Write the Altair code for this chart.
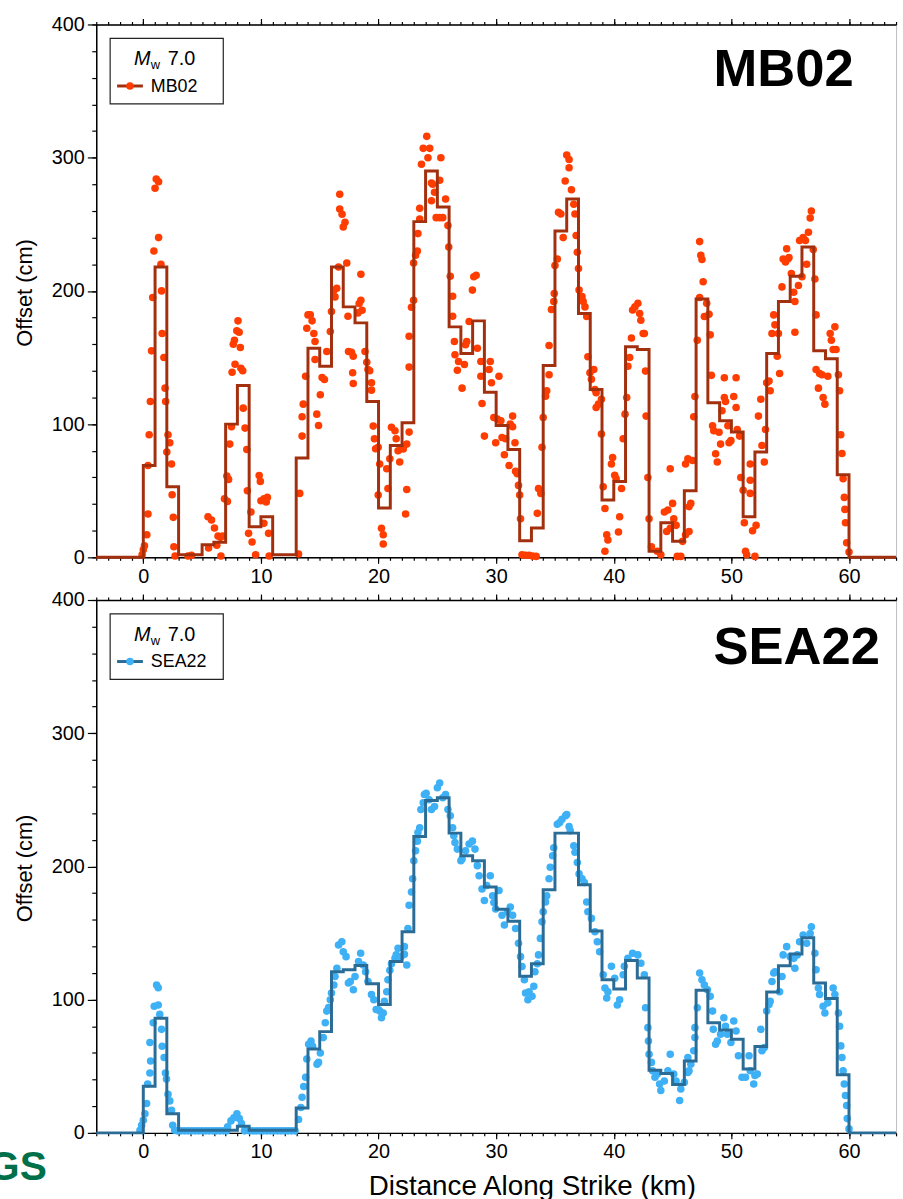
import altair as alt
import pandas as pd

FONT = "Liberation Sans"

# Left edge (km) of each 1-km slip bin along strike
BIN_KM = list(range(0, 60))

# Binned offsets (cm) for each model, one value per 1-km bin
MB02_BIN = [69, 218, 53, 2, 2, 9.4, 11.4, 100, 129, 23,
            30.5, 2, 2, 74.5, 157, 143.5, 218, 188, 176, 117,
            37, 84, 101, 252, 290, 263, 173, 153, 177.5, 124,
            99, 81, 12.4, 22, 144, 245, 269, 183, 126, 43,
            57, 158, 156, 4.5, 26, 12, 50, 194, 116, 102.5,
            94, 30.5, 79, 153, 192, 211, 233, 155, 149, 62]
SEA22_BIN = [35, 86, 14.4, 2, 2, 2, 2, 2, 5, 2,
             2, 2, 2, 18.6, 63, 76, 121, 122.4, 125.7, 112,
             96.3, 128.6, 151, 222.5, 249.5, 251.5, 225, 208, 204.3, 184.5,
             167.8, 158.9, 117.5, 126.9, 182.5, 225, 225, 186.2, 151.5, 115,
             108, 129.4, 116.2, 47, 44.5, 36.3, 54, 107, 82.7, 77.2,
             70.3, 47.9, 64.8, 105.8, 125.4, 134.3, 146.5, 112.5, 100.8, 43.7]

# Measured surface offsets (km along strike, offset in cm)
MB02_PTS = [
    (-0.1, 2), (0.0, 5.7), (0.1, 8.7), (0.3, 17), (0.4, 32.5), (0.4, 69), (0.5, 92), (0.6, 117),
    (0.7, 155), (0.8, 195), (1.0, 277), (1.1, 284), (1.3, 282), (0.9, 230), (1.3, 240), (1.5, 220),
    (1.55, 200), (1.6, 168), (1.75, 150), (1.85, 127), (1.9, 117), (2.1, 92), (2.25, 86), (2.0, 79),
    (2.4, 70), (2.45, 47), (2.55, 30), (2.6, 8), (2.7, 1), (3.8, 1), (4.1, 1.5), (5.5, 30.5),
    (5.8, 28), (6.05, 22), (6.35, 16), (6.55, 15), (6.75, 16), (5.55, 7), (6.25, 9), (6.6, 1),
    (6.9, 44), (7.15, 42), (7.1, 61), (7.25, 58.5), (7.35, 85), (7.5, 98), (7.55, 139), (7.8, 145),
    (7.65, 160), (7.75, 163), (7.95, 170), (8.15, 169), (8.05, 177.5), (8.25, 157.5), (8.3, 142),
    (8.45, 140), (8.5, 112), (8.65, 97), (8.8, 81), (8.85, 50), (9.15, 34), (8.95, 18), (9.25, 11.5),
    (9.55, 2), (9.85, 61.5), (9.95, 57), (10.0, 42.5), (10.25, 44), (10.45, 41.5), (10.55, 45),
    (10.25, 25.5), (10.65, 18), (10.7, 1), (13.2, 2.5), (13.3, 48), (13.5, 91), (13.5, 105.5),
    (13.6, 115), (13.8, 136), (13.9, 172), (14.0, 182), (14.2, 182), (14.35, 177.5), (14.5, 168),
    (14.6, 162), (14.75, 107.5), (14.9, 99), (14.6, 148.5), (15.05, 122), (15.2, 135), (15.4, 133.5),
    (15.6, 154.5), (15.9, 169.5), (16.0, 184.5), (16.2, 200.5), (16.3, 195.5), (16.45, 202),
    (16.6, 218), (16.7, 272.5), (16.7, 261.5), (16.9, 257.5), (17.0, 248), (17.15, 251.5),
    (17.3, 221), (17.4, 181), (17.45, 154.5), (17.7, 154), (17.85, 151), (17.8, 138.5),
    (17.85, 130.5), (18.25, 183.5), (18.35, 190.5), (18.5, 193), (18.6, 185.5), (18.5, 212.5),
    (18.85, 154.5), (19.0, 146.5), (19.1, 141), (19.25, 140), (19.4, 131), (19.4, 125.5),
    (19.55, 98.5), (19.65, 89), (19.75, 81.5),
    (19.97, 82.7), (20.1, 70), (19.97, 46.7), (20.25, 21.8), (20.4, 16.9), (20.4, 10), (20.8, 51.6),
    (20.7, 66.5), (20.96, 74), (21.1, 97.6), (21.4, 95), (21.5, 89), (21.66, 80), (21.8, 71.5),
    (22.0, 82), (22.1, 81.4), (22.4, 85), (22.4, 50.9), (22.3, 32.5), (22.6, 94), (22.6, 166),
    (22.6, 142.8), (22.8, 187.7), (22.98, 193), (22.98, 221), (23.15, 226.7), (23.3, 230),
    (23.35, 243), (23.5, 254), (23.5, 262), (23.65, 295), (23.8, 307), (24.1, 316), (24.35, 307),
    (24.2, 300), (24.5, 281), (24.6, 280), (24.76, 274), (24.5, 267.7), (24.9, 255), (25.2, 255),
    (25.3, 300), (25.2, 283), (25.7, 269), (25.46, 255), (25.9, 249), (25.97, 233), (26.1, 211),
    (26.3, 196), (26.3, 181), (26.45, 162), (26.5, 152), (26.7, 140.5), (26.8, 147), (27.1, 127),
    (27.3, 144.7), (27.4, 159.6), (27.5, 162), (27.7, 177), (27.98, 200.6), (28.1, 210.6),
    (28.3, 211.8), (28.4, 157), (28.7, 147), (28.7, 136), (28.8, 115.5), (29.0, 91), (29.4, 141),
    (29.5, 147), (29.6, 131), (29.8, 105), (29.96, 86), (30.1, 103.8), (30.24, 136), (30.4, 102.5),
    (30.5, 90), (30.7, 77), (30.8, 89), (31.1, 69), (31.2, 100), (31.4, 106), (31.4, 98), (31.6, 86),
    (31.65, 64.6), (31.8, 62.8), (31.9, 54), (32.0, 46.7), (32.07, 29), (32.2, 2), (32.5, 1.5),
    (32.8, 1.5), (33.1, 1), (33.4, 0.7), (33.5, 33), (33.6, 51.6), (33.8, 48), (33.9, 82.7),
    (34.0, 105), (34.2, 121), (34.3, 125), (34.5, 137), (34.5, 159), (34.7, 186), (34.9, 192),
    (34.94, 198), (35.0, 219), (35.2, 224), (35.3, 259), (35.5, 257.7), (35.7, 240), (35.87, 282.5),
    (36.0, 302), (36.2, 298.7), (36.2, 292.5), (36.4, 276), (36.6, 265), (36.7, 257.7), (36.8, 241.6),
    (36.9, 229), (37.0, 216.8), (37.05, 200.6), (37.3, 195.7), (37.4, 192), (37.55, 188),
    (37.7, 180.8), (37.8, 150.5), (37.97, 138.5), (38.1, 133.6), (38.3, 141), (38.4, 126),
    (38.5, 123.6), (38.5, 112.5), (38.7, 115), (38.95, 118.7), (38.95, 92.6), (39.1, 53),
    (39.25, 36.7), (39.4, 17), (39.25, 4.5), (39.5, 13), (39.8, 70), (39.9, 75), (40.08, 61.6),
    (40.2, 59), (40.4, 19), (40.5, 30.5), (40.66, 51.6), (40.8, 89), (40.96, 107.5), (41.1, 120),
    (41.2, 143.5), (41.35, 150), (41.5, 164.6), (41.6, 185.7), (41.8, 188), (42.05, 190.7),
    (42.2, 183), (42.3, 178), (42.5, 168), (42.6, 168), (42.7, 139.8), (42.75, 106), (42.9, 60),
    (43.0, 29), (43.2, 8), (43.7, 4.5), (44.0, 2), (44.3, 34), (44.6, 35.5), (44.8, 66.5),
    (44.8, 21.8), (44.5, 19.4),
    (45.0, 40.5), (45.1, 29), (45.3, 24), (45.4, 0.7), (45.7, 0.7), (45.85, 12), (46.1, 70),
    (46.1, 17), (46.3, 74), (46.4, 19.4), (46.4, 38), (46.55, 40.5), (46.7, 72.7), (46.8, 105.5),
    (46.9, 120.7), (47.1, 163), (47.3, 195), (47.3, 237), (47.4, 226.7), (47.5, 223.5),
    (47.6, 206.8), (47.7, 180.8), (47.9, 190.7), (48.1, 182.5), (48.2, 167), (48.3, 136.6),
    (48.4, 98.8), (48.5, 95), (48.66, 77.7), (48.8, 71.5), (48.95, 93.9), (49.08, 85), (49.2, 110),
    (49.4, 134.8), (49.4, 120), (49.5, 117), (49.7, 98.8), (49.8, 86), (49.96, 87.6), (50.2, 120.7),
    (50.4, 134.8), (50.4, 112.5), (50.5, 96), (50.7, 91), (50.8, 60), (51.0, 50.4), (51.1, 26),
    (51.2, 4.5), (51.3, 2), (51.6, 70), (51.6, 57.8), (51.6, 48), (51.8, 20), (52.0, 0.7),
    (52.1, 24), (52.3, 106), (52.5, 118.7), (52.6, 84), (52.8, 71.5), (52.9, 96), (53.0, 131),
    (53.2, 132.4), (53.3, 125), (53.45, 168), (53.6, 182), (53.7, 174.5), (53.9, 151), (54.0, 168),
    (54.1, 138), (54.3, 203), (54.4, 224), (54.6, 221.7), (54.7, 231.7), (54.8, 224), (54.9, 225),
    (55.1, 213), (55.3, 199), (55.4, 192), (55.4, 169), (55.7, 204), (55.8, 237.9), (56.0, 210.6),
    (56.1, 240), (56.3, 237.9), (56.4, 220), (56.55, 244), (56.7, 254.7), (56.8, 260), (56.96, 231),
    (57.1, 209), (57.2, 182), (57.2, 141), (57.4, 127), (57.5, 138), (57.7, 137), (57.8, 120),
    (57.95, 115), (58.2, 136), (58.4, 168), (58.5, 163), (58.65, 156), (58.8, 173), (58.9, 156),
    (59.1, 137), (59.2, 125), (59.3, 92), (59.4, 78), (59.5, 59), (59.6, 45), (59.65, 36),
    (59.7, 26), (59.8, 11), (60.0, 4),
]

SEA22_PTS = [
    (-0.28, 2), (-0.14, 5.7), (0.0, 9.4), (0.14, 14.4), (0.28, 22), (0.37, 36.7), (0.56, 45),
    (0.62, 54), (0.56, 67.8), (0.84, 82.7), (0.93, 95), (1.13, 111), (1.27, 109), (1.27, 96),
    (1.4, 89), (1.55, 77.7), (1.6, 65), (1.77, 56.6), (1.88, 45), (1.97, 40.5), (2.1, 29),
    (2.25, 24), (2.4, 17), (2.5, 5.7), (2.67, 2),
    (2.9, 1.5), (3.2, 1.5), (3.5, 1.5), (3.8, 1.5), (4.1, 1.5), (4.4, 1.5), (4.7, 1.5), (5.0, 1.5),
    (5.3, 1.5), (5.6, 1.5), (5.9, 1.5), (6.2, 1.5), (6.5, 1.5), (6.8, 1.5), (7.1, 1.5), (8.6, 1.5),
    (9.0, 1.5), (9.3, 1.5), (9.6, 1.5), (9.9, 1.5), (10.2, 1.5), (10.5, 1.5), (10.8, 1.5),
    (11.1, 1.5), (11.4, 1.5), (11.7, 1.5), (12.0, 1.5), (12.3, 1.5), (12.6, 1.5), (12.9, 1.5),
    (7.17, 4.5), (7.45, 9), (7.7, 11.4), (7.96, 14.4), (8.16, 10.7), (8.35, 7),
    (13.2, 10), (13.4, 19), (13.5, 26.8), (13.64, 34.8), (13.8, 41.7), (13.9, 55.4), (14.06, 66.5),
    (14.26, 69), (14.4, 65), (14.77, 51.6), (14.9, 52.9), (15.05, 60), (15.3, 71.5), (15.47, 82.7),
    (15.6, 91.4), (15.75, 94), (15.9, 100), (16.0, 105), (16.2, 111), (16.3, 117.4), (16.46, 123.6),
    (16.6, 141), (16.88, 143.5), (17.0, 136), (17.24, 132.3), (17.44, 112.5), (17.6, 113.7),
    (17.86, 107.5), (18.0, 117.4), (18.3, 128.6), (18.48, 134.8), (18.7, 126), (18.9, 121),
    (19.1, 113.7), (19.4, 103.8), (19.6, 100), (19.8, 92.6),
    (19.97, 92.6), (20.1, 91.4), (20.25, 86.4), (20.4, 90), (20.5, 98.8), (20.7, 106), (20.8, 115),
    (20.96, 122), (21.1, 127), (21.4, 131), (21.5, 133.6), (21.66, 138.5), (21.9, 132.3),
    (22.2, 139.8), (22.4, 126), (22.2, 134), (22.5, 153.4), (22.6, 170.8), (22.8, 180.8),
    (22.9, 190.7), (23.0, 204.3), (23.15, 211.8), (23.3, 219), (23.35, 225.4), (23.5, 229),
    (23.6, 242.8), (23.8, 247.8), (23.9, 254), (24.05, 255), (24.3, 250), (24.5, 242.8),
    (24.76, 245), (25.0, 259), (25.2, 262.7), (25.46, 251.5), (25.7, 254), (25.9, 242.8),
    (26.1, 238), (26.3, 229), (26.4, 223), (26.5, 218), (26.7, 213), (27.0, 204.3), (27.1, 205.6),
    (27.4, 211.8), (27.7, 216.8), (27.98, 219), (28.2, 213), (28.4, 200.6), (28.55, 193),
    (28.8, 183), (29.0, 174.5), (29.2, 185.7), (29.5, 193), (29.7, 178), (29.8, 173), (29.96, 168),
    (30.24, 182), (30.5, 163.4), (30.7, 156), (30.96, 165.9), (31.2, 169.6), (31.4, 163.4),
    (31.65, 153.4), (31.9, 142.3), (32.07, 132.3), (32.2, 124.9), (32.4, 115), (32.5, 105),
    (32.7, 100), (32.8, 106), (33.05, 102.5), (33.2, 110), (33.3, 121), (33.5, 127), (33.6, 133.6),
    (33.76, 146), (33.9, 158.4), (34.0, 165.9), (34.2, 173.3), (34.3, 178), (34.5, 190.7),
    (34.6, 199.4), (34.8, 208), (34.9, 214), (35.2, 231.7), (35.4, 232.9), (35.6, 235.4),
    (35.9, 238), (36.0, 239), (36.2, 230), (36.3, 226.7), (36.6, 215.5), (36.7, 210.6), (36.9, 203),
    (37.05, 194.4), (37.3, 190.7), (37.5, 188), (37.7, 173.3), (37.8, 166), (38.1, 161),
    (38.4, 151), (38.6, 143.5), (38.8, 136), (39.1, 118.7), (39.25, 108.7), (39.4, 101.3),
    (39.5, 106), (39.8, 125), (40.08, 116), (40.3, 96), (40.5, 100), (40.8, 118.7), (40.9, 125),
    (41.2, 131), (41.6, 134.8), (42.05, 133.6), (42.3, 127.4), (42.6, 118.7), (42.7, 93.9),
    (42.9, 79), (42.95, 69), (43.0, 59), (43.2, 52.9), (43.3, 46.7), (43.5, 41.7), (43.7, 44.2),
    (43.9, 36.7), (44.0, 31.8), (44.3, 39), (44.6, 46.7), (44.8, 59),
    (45.1, 44.2), (45.3, 39), (45.6, 24.3), (45.7, 33), (46.0, 38), (46.3, 45.4), (46.3, 56.6),
    (46.4, 46.7), (46.55, 51.6), (46.8, 61.6), (46.9, 71.5), (46.9, 79), (47.1, 93.9), (47.3, 120),
    (47.5, 115), (47.7, 111), (47.96, 107.5), (48.2, 102.5), (48.4, 91.4), (48.46, 77.7),
    (48.66, 66.5), (48.8, 69), (49.08, 74), (49.36, 86.4), (49.5, 80), (49.66, 74), (49.96, 67.8),
    (50.2, 84), (50.4, 76.5), (50.6, 57.9), (50.9, 41.7), (51.2, 41.7), (51.5, 57.9), (51.6, 46.7),
    (51.9, 36.7), (52.0, 43), (52.2, 44.2), (52.5, 77.7), (52.6, 61.6), (52.8, 64), (53.0, 91.4),
    (53.2, 96.3), (53.3, 98.8), (53.45, 113.7), (53.6, 120), (53.7, 121), (54.1, 106),
    (54.3, 117.4), (54.4, 133.6), (54.7, 139.8), (55.0, 132.3), (55.3, 131), (55.4, 123.6),
    (55.6, 133.6), (55.8, 143.5), (56.1, 148.5), (56.4, 142.3), (56.7, 149.7), (56.8, 154.7),
    (57.1, 134.8), (57.2, 122.4), (57.4, 108.7), (57.5, 103.8), (57.8, 95), (57.95, 90),
    (58.2, 97.6), (58.65, 108.7), (58.8, 103.8), (59.1, 90), (59.2, 80), (59.3, 65.3), (59.4, 56.6),
    (59.5, 46.7), (59.6, 36.7), (59.7, 28), (59.8, 20.6), (59.85, 10.7), (60.0, 3),
]

# Axis tick positions
MAJOR_X = [0, 10, 20, 30, 40, 50, 60]
MINOR_X = list(range(-4, 65))
MAJOR_Y = [0, 100, 200, 300, 400]
MINOR_Y = list(range(0, 401, 20))

W, H = 806, 537
DOT = 58


def panel(name, bins, pts, dot_color, line_color, name_baseline, bottom_title, logo):
    xs = alt.Scale(domain=[-4, 64], nice=False, zero=False)
    ys = alt.Scale(domain=[0, 400], nice=False)

    step = pd.DataFrame({"km": [-4] + BIN_KM + [60, 64], "off": [0] + bins + [0, 0]})
    obs = pd.DataFrame({"km": [p[0] for p in pts], "off": [p[1] for p in pts]})
    one = pd.DataFrame({"k": [0]})

    x_major = dict(orient="bottom", values=MAJOR_X, tickSize=6, labelPadding=3, grid=False,
                   labelFontSize=20, domainWidth=1.5)
    if bottom_title:
        x_major.update(title="Distance Along Strike (km)", titleFontSize=28,
                       titleX=439, titleY=62, titleBaseline="alphabetic",
                       titleAlign="center", titleFontWeight="normal")
    else:
        x_major.update(title=None)

    # observed offsets
    dots = alt.Chart(obs).mark_circle(size=DOT, color=dot_color, opacity=1).encode(
        x=alt.X("km:Q", scale=xs,
                axis=alt.Axis(orient="bottom", values=MINOR_X, tickSize=3, labels=False,
                              domain=False, title=None, grid=False)),
        y=alt.Y("off:Q", scale=ys,
                axis=alt.Axis(orient="left", values=MINOR_Y, tickSize=4.5, labels=False,
                              domain=False, title=None, grid=False)),
    )

    # binned model offsets as a step profile
    steps = alt.Chart(step).mark_line(
        interpolate="step-after", color=line_color, strokeWidth=3, strokeJoin="miter"
    ).encode(
        x=alt.X("km:Q", scale=xs, axis=alt.Axis(**x_major)),
        y=alt.Y("off:Q", scale=ys,
                axis=alt.Axis(orient="left", values=MAJOR_Y, tickSize=9, labelPadding=3,
                              grid=False, labelFontSize=20, domainWidth=1.5,
                              title="Offset (cm)", titleFontSize=22,
                              titleFontWeight="normal", titleAngle=270,
                              titleX=-72, titleY=270, titleBaseline="middle",
                              titleAlign="center")),
    )

    # frame ticks along the top edge
    top_major = alt.Chart(step).mark_line(opacity=0).encode(
        x=alt.X("km:Q", scale=xs,
                axis=alt.Axis(orient="top", values=MAJOR_X, tickSize=6, labels=False,
                              title=None, grid=False, domainWidth=1.5)),
        y=alt.Y("off:Q", scale=ys, axis=None),
    )
    top_minor = alt.Chart(step).mark_line(opacity=0).encode(
        x=alt.X("km:Q", scale=xs,
                axis=alt.Axis(orient="top", values=MINOR_X, tickSize=3, labels=False,
                              title=None, grid=False, domain=False)),
        y=alt.Y("off:Q", scale=ys, axis=None),
    )

    # legend box
    box = alt.Chart(one).mark_rect(fill="white", stroke="#222222", strokeWidth=1.2).encode(
        x=alt.value(14), x2=alt.value(128), y=alt.value(14), y2=alt.value(80))
    mag_m = alt.Chart(one).mark_text(text="M", font=FONT, fontSize=20, fontStyle="italic",
                                     align="left", baseline="alphabetic", color="black").encode(
        x=alt.value(38), y=alt.value(41))
    mag_w = alt.Chart(one).mark_text(text="w", font=FONT, fontSize=13,
                                     align="left", baseline="alphabetic", color="black").encode(
        x=alt.value(55), y=alt.value(45))
    mag_v = alt.Chart(one).mark_text(text="7.0", font=FONT, fontSize=20,
                                     align="left", baseline="alphabetic", color="black").encode(
        x=alt.value(72), y=alt.value(41))
    key_line = alt.Chart(one).mark_rule(color=line_color, strokeWidth=3).encode(
        x=alt.value(21), x2=alt.value(47), y=alt.value(62))
    key_dot = alt.Chart(one).mark_circle(size=DOT, color=dot_color, opacity=1).encode(
        x=alt.value(34), y=alt.value(62))
    key_lab = alt.Chart(one).mark_text(text=name, font=FONT, fontSize=18,
                                       align="left", baseline="alphabetic", color="black").encode(
        x=alt.value(55), y=alt.value(68))

    big = alt.Chart(one).mark_text(text=name, font=FONT, fontSize=53, fontWeight="bold",
                                   align="left", baseline="alphabetic", color="black").encode(
        x=alt.value(622), y=alt.value(name_baseline))

    layers = [dots, steps, top_major, top_minor, box, mag_m, mag_w, mag_v,
              key_line, key_dot, key_lab, big]

    if logo:
        layers.append(
            alt.Chart(one).mark_text(
                text="GS", font=FONT, fontSize=41, fontWeight="bold",
                align="left", baseline="alphabetic", color="#00704a").encode(
                x=alt.value(-109), y=alt.value(584))
        )

    return alt.layer(*layers).resolve_axis(x="independent", y="independent").properties(
        width=W, height=H)


top = panel("MB02", MB02_BIN, MB02_PTS, "#ff3d00", "#a2300f", 62, False, False)
bottom = panel("SEA22", SEA22_BIN, SEA22_PTS, "#3eb0f5", "#2b6c97", 64, True, True)

chart = alt.vconcat(top, bottom, spacing=43, bounds="flush").properties(
    padding={"left": -13, "top": 9, "right": 0, "bottom": -5}
).configure(font=FONT).configure_view(
    stroke="#bdbdbd", strokeWidth=1
).configure_axis(
    labelFont=FONT, titleFont=FONT, labelColor="black", titleColor="black",
    tickColor="black", domainColor="black", tickWidth=1.2
)

chart.save("out.html", embed_options={"renderer": "svg", "actions": False})
